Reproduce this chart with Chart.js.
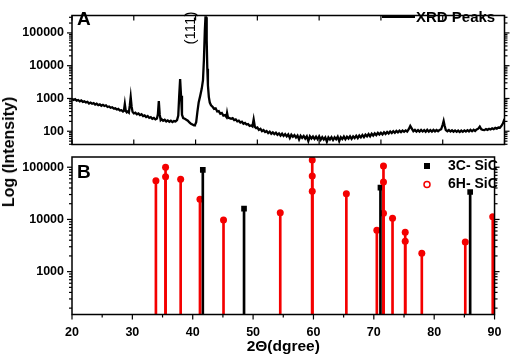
<!DOCTYPE html>
<html>
<head>
<meta charset="utf-8">
<script src="https://cdn.jsdelivr.net/npm/chart.js@4.4.0/dist/chart.umd.min.js"></script>
<style>
  html, body { margin: 0; padding: 0; background: #fff; }
  #wrap { position: relative; width: 512px; height: 362px; overflow: hidden; font-family: 'Liberation Sans', Arial, sans-serif; }
  #panelA { position: absolute; left: 0; top: 0; }
  #panelB { position: absolute; left: 0; top: 140px; }
  #ytitle { position: absolute; left: 9px; top: 152px; transform: translate(-50%, -50%) rotate(-90deg);
            font-weight: bold; font-size: 16px; white-space: nowrap; color: #000; }
</style>
</head>
<body>
<div id="wrap">
  <canvas id="panelA" width="512" height="160"></canvas>
  <canvas id="panelB" width="512" height="222"></canvas>
  <div id="ytitle">Log (Intensity)</div>
</div>
<script>
// ---- data ----
// panel A: measured scan, [2theta, counts]
const xrdScan = [
  [20.0,990],[20.25,900],[20.5,950],[20.75,860],[21.0,900],[21.25,820],[21.5,870],[21.75,790],
  [22.0,820],[22.25,760],[22.5,790],[22.75,700],[23.0,750],[23.25,690],[23.5,720],[23.75,650],
  [24.0,690],[24.25,630],[24.5,660],[24.75,600],[25.0,640],[25.25,590],[25.5,620],[25.75,550],
  [26.0,570],[26.25,520],[26.5,540],[26.75,490],[27.0,500],[27.25,460],[27.5,480],[27.75,430],
  [28.0,440],[28.25,400],[28.4,420],[28.55,680],[28.7,420],[28.85,380],[29.0,400],[29.2,370],
  [29.35,600],[29.5,1100],[29.65,560],[29.8,390],[30.0,350],[30.25,370],[30.5,330],[30.75,350],
  [31.0,310],[31.25,330],[31.5,290],[31.75,305],[32.0,270],[32.25,290],[32.5,255],[32.75,270],
  [33.0,240],[33.25,255],[33.5,230],[33.75,245],[33.9,330],[34.05,830],[34.2,320],[34.35,220],
  [34.5,235],[34.75,210],[35.0,225],[35.25,200],[35.5,215],[35.75,195],[36.0,210],[36.25,190],
  [36.5,205],[36.75,200],[37.0,220],[37.2,300],[37.35,1200],[37.5,3900],[37.65,1200],[37.8,320],
  [38.0,250],[38.25,240],[38.5,225],[38.75,210],[39.0,185],[39.25,170],[39.5,160],[39.75,150],
  [39.9,155],[40.1,190],[40.3,400],[40.5,750],[40.75,1200],[41.0,2000],[41.2,3600],[41.35,15000],
  [41.5,120000],[41.6,300000],[41.7,300000],[41.8,60000],[41.9,8000],[42.0,2500],[42.15,1100],[42.3,750],
  [42.5,620],[42.75,560],[43.0,480],[43.25,500],[43.5,400],[43.75,410],[44.0,340],[44.25,360],
  [44.5,300],[44.75,310],[45.0,270],[45.1,360],[45.25,260],[45.5,250],[45.75,240],[46.0,250],
  [46.25,220],[46.5,230],[46.75,200],[47.0,210],[47.25,185],[47.5,195],[47.75,170],[48.0,180],
  [48.25,160],[48.5,165],[48.75,145],[49.0,150],[49.2,140],[49.4,230],[49.6,135],[49.8,125],
  [50.0,130],[50.25,110],[50.5,118],[50.75,100],[51.0,108],[51.25,95],[51.5,102],[51.75,88],
  [52.0,97],[52.25,84],[52.5,92],[52.75,82],[53.0,90],[53.25,78],[53.5,86],[53.75,74],
  [54.0,84],[54.25,72],[54.5,82],[54.75,70],[55.0,80],[55.25,62],[55.5,78],[55.75,68],
  [56.0,76],[56.25,64],[56.5,74],[56.75,56],[57.0,73],[57.25,63],[57.5,72],[57.75,60],
  [58.0,70],[58.25,50],[58.5,70],[58.75,60],[59.0,69],[59.25,58],[59.5,68],[59.75,57],
  [60.0,70],[60.25,55],[60.5,66],[60.75,56],[61.0,65],[61.25,48],[61.5,65],[61.75,56],
  [62.0,66],[62.25,54],[62.5,65],[62.75,57],[63.0,68],[63.25,50],[63.5,66],[63.75,58],
  [64.0,69],[64.25,57],[64.5,68],[64.75,60],[65.0,70],[65.25,59],[65.5,70],[65.75,62],
  [66.0,73],[66.25,62],[66.5,74],[66.75,65],[67.0,77],[67.25,66],[67.5,79],[67.75,70],
  [68.0,82],[68.25,70],[68.5,84],[68.75,74],[69.0,86],[69.25,76],[69.5,89],[69.75,79],
  [70.0,90],[70.25,80],[70.5,93],[70.75,83],[71.0,95],[71.25,85],[71.5,98],[71.75,88],
  [72.0,100],[72.25,90],[72.5,102],[72.75,92],[73.0,104],[73.25,94],[73.5,105],[73.75,96],
  [74.0,106],[74.25,98],[74.5,115],[74.75,145],[75.0,120],[75.25,100],[75.5,110],[75.75,98],
  [76.0,108],[76.25,97],[76.5,109],[76.75,98],[77.0,108],[77.25,96],[77.5,110],[77.75,97],
  [78.0,108],[78.25,98],[78.5,110],[78.75,99],[79.0,109],[79.25,100],[79.5,110],[79.75,115],
  [80.0,160],[80.15,205],[80.3,150],[80.5,108],[80.75,100],[81.0,109],[81.25,98],[81.5,107],
  [81.75,97],[82.0,106],[82.25,96],[82.5,105],[82.75,95],[83.0,105],[83.25,96],[83.5,106],
  [83.75,98],[84.0,108],[84.25,99],[84.5,110],[84.75,100],[85.0,111],[85.25,102],[85.5,113],
  [85.75,120],[86.0,138],[86.25,115],[86.5,110],[86.75,108],[87.0,116],[87.25,110],[87.5,119],
  [87.75,113],[88.0,122],[88.25,116],[88.5,126],[88.75,120],[89.0,130],[89.25,128],[89.5,145],
  [89.75,175],[90.0,240]
];
const peakAngle = 41.62;
const peakLabel = '(111)';

// panel B: reference patterns
const sic6hAngle  = [33.9, 35.5, 35.5, 38.0, 41.2, 45.1, 54.5, 59.8, 59.8, 59.8, 65.45,
                     70.5, 71.6, 71.6, 71.6, 73.1, 75.2, 75.2, 77.95, 85.15, 89.7];
const sic6hCounts = [55000, 100000, 66000, 59000, 24400, 9800, 13500, 138000, 68000, 34700, 31200,
                     6200, 105700, 52000, 13100, 10500, 5700, 3800, 2250, 3700, 11300];
const sic3cAngle  = [41.67, 48.5, 71.1, 85.96];
const sic3cCounts = [88700, 16100, 40700, 33600];

const xTicks  = [20, 30, 40, 50, 60, 70, 80, 90];
const yTicksA = [100, 1000, 10000, 100000];
const yTicksB = [1000, 10000, 100000];

const RED = '#f40000';
const FONT = "'Liberation Sans', Arial, sans-serif";
const tickFont = { family: FONT, size: 12.5, weight: 'bold' };

const line = (ctx, x1, y1, x2, y2) => { ctx.beginPath(); ctx.moveTo(x1, y1); ctx.lineTo(x2, y2); ctx.stroke(); };

// box + origin-style ticks (minor log ticks, inner ticks on panel A)
const frameTicks = {
  id: 'frameTicks',
  afterDraw(chart) {
    const { ctx, chartArea: a, scales: { x, y } } = chart;
    const outBottom = chart.canvas.id === 'panelB';
    ctx.save();
    ctx.strokeStyle = '#000';
    ctx.lineWidth = 1.2;
    const lo = Math.floor(Math.log10(y.min)), hi = Math.ceil(Math.log10(y.max));
    for (let e = lo; e <= hi; e++) {
      for (let k = 1; k < 10; k++) {
        const v = k * Math.pow(10, e);
        if (v < y.min || v > y.max) continue;
        const py = y.getPixelForValue(v);
        const len = k === 1 ? 5 : 3;
        line(ctx, a.left - len, py, a.left, py);
        line(ctx, a.right, py, a.right + len, py);
      }
    }
    for (let v = x.min; v <= x.max; v += 5) {
      const px = x.getPixelForValue(v);
      const major = v % 10 === 0;
      if (outBottom) {
        line(ctx, px, a.bottom, px, a.bottom + (major ? 5 : 3));
      } else if (major) {
        line(ctx, px, a.bottom, px, a.bottom - 5);
        line(ctx, px, a.top, px, a.top + 5);
      }
    }
    ctx.lineWidth = 1.5;
    ctx.strokeRect(a.left, a.top, a.right - a.left, a.bottom - a.top);
    ctx.restore();
  }
};

const decorA = {
  id: 'decorA',
  afterDraw(chart) {
    const ctx = chart.ctx;
    const ds = chart.data.datasets[0];
    ctx.save();
    ctx.fillStyle = '#000';
    ctx.font = 'bold 19px ' + FONT;
    ctx.fillText('A', 77, 25);
    // legend
    ctx.strokeStyle = '#000';
    ctx.lineWidth = 1.8;
    line(ctx, 382, 17, 415, 17);
    ctx.font = 'bold 15px ' + FONT;
    ctx.textBaseline = 'middle';
    ctx.fillText(ds.label, 416, 17.5);
    // peak label
    const px = chart.scales.x.getPixelForValue(peakAngle);
    ctx.translate(px - 14.5, 28);
    ctx.rotate(-Math.PI / 2);
    ctx.textAlign = 'center';
    ctx.font = '15px ' + FONT;
    ctx.fillText(peakLabel, 0, 0);
    ctx.restore();
  }
};

const decorB = {
  id: 'decorB',
  afterDraw(chart) {
    const ctx = chart.ctx;
    const [, , hex, cubic] = chart.data.datasets;
    ctx.save();
    ctx.fillStyle = '#000';
    ctx.font = 'bold 19px ' + FONT;
    ctx.fillText('B', 77, 38);
    ctx.fillRect(424, 23, 6, 6);
    ctx.strokeStyle = RED;
    ctx.lineWidth = 1.5;
    ctx.beginPath();
    ctx.arc(427, 44.5, 3, 0, Math.PI * 2);
    ctx.stroke();
    ctx.font = 'bold 14px ' + FONT;
    ctx.textBaseline = 'middle';
    ctx.fillText(cubic.label, 448, 26.5);
    ctx.fillText(hex.label, 448, 44);
    ctx.restore();
  }
};

const yScale = (min, max, ticks) => ({
  type: 'logarithmic',
  min: min,
  max: max,
  afterFit: s => { s.width = 72; },
  afterBuildTicks: s => { s.ticks = ticks.map(v => ({ value: v })); },
  grid: { display: false, drawTicks: false },
  border: { display: false },
  ticks: { padding: 8, color: '#000', font: tickFont, autoSkip: false, callback: v => String(v) }
});

new Chart(document.getElementById('panelA'), {
  type: 'line',
  data: {
    datasets: [{
      label: 'XRD Peaks',
      data: xrdScan.map(p => ({ x: p[0], y: p[1] })),
      borderColor: '#000',
      borderWidth: 2.3,
      pointRadius: 0,
      tension: 0
    }]
  },
  options: {
    responsive: false,
    animation: false,
    layout: { padding: { top: 1.5, right: 7.5, bottom: 3, left: 0 } },
    plugins: { legend: { display: false }, tooltip: { enabled: false } },
    scales: {
      x: { type: 'linear', display: false, min: 20, max: 90 },
      y: yScale(39.4, 340000, yTicksA)
    }
  },
  plugins: [frameTicks, decorA]
});

new Chart(document.getElementById('panelB'), {
  type: 'scatter',
  data: {
    datasets: [
      { type: 'bar', label: '6H- SiC lines', data: sic6hAngle.map((a, i) => ({ x: a, y: sic6hCounts[i] })),
        backgroundColor: RED, barThickness: 2, grouped: false },
      { type: 'bar', label: '3C- SiC lines', data: sic3cAngle.map((a, i) => ({ x: a, y: sic3cCounts[i] })),
        backgroundColor: '#000', barThickness: 2, grouped: false },
      { label: '6H- SiC', data: sic6hAngle.map((a, i) => ({ x: a, y: sic6hCounts[i] })),
        pointStyle: 'circle', pointRadius: 3.5, backgroundColor: RED, borderWidth: 0 },
      { label: '3C- SiC', data: sic3cAngle.map((a, i) => ({ x: a, y: sic3cCounts[i] })),
        pointStyle: 'rect', pointRadius: 4, backgroundColor: '#000', borderWidth: 0 }
    ]
  },
  options: {
    responsive: false,
    animation: false,
    layout: { padding: { top: 17, right: 7.5, bottom: 0, left: 0 } },
    plugins: { legend: { display: false }, tooltip: { enabled: false } },
    scales: {
      x: {
        type: 'linear', min: 20, max: 90, offset: false,
        afterFit: s => { s.height = 47.5; },
        afterBuildTicks: s => { s.ticks = xTicks.map(v => ({ value: v })); },
        grid: { display: false, drawTicks: false },
        border: { display: false },
        ticks: { padding: 10.5, color: '#000', font: tickFont, autoSkip: false, maxRotation: 0 },
        title: { display: true, text: '2Θ(dgree)', color: '#000',
                 font: { family: FONT, size: 15.5, weight: 'bold' }, padding: { top: 0, bottom: 6 } }
      },
      y: yScale(151, 157000, yTicksB)
    }
  },
  plugins: [frameTicks, decorB]
});
</script>
</body>
</html>
